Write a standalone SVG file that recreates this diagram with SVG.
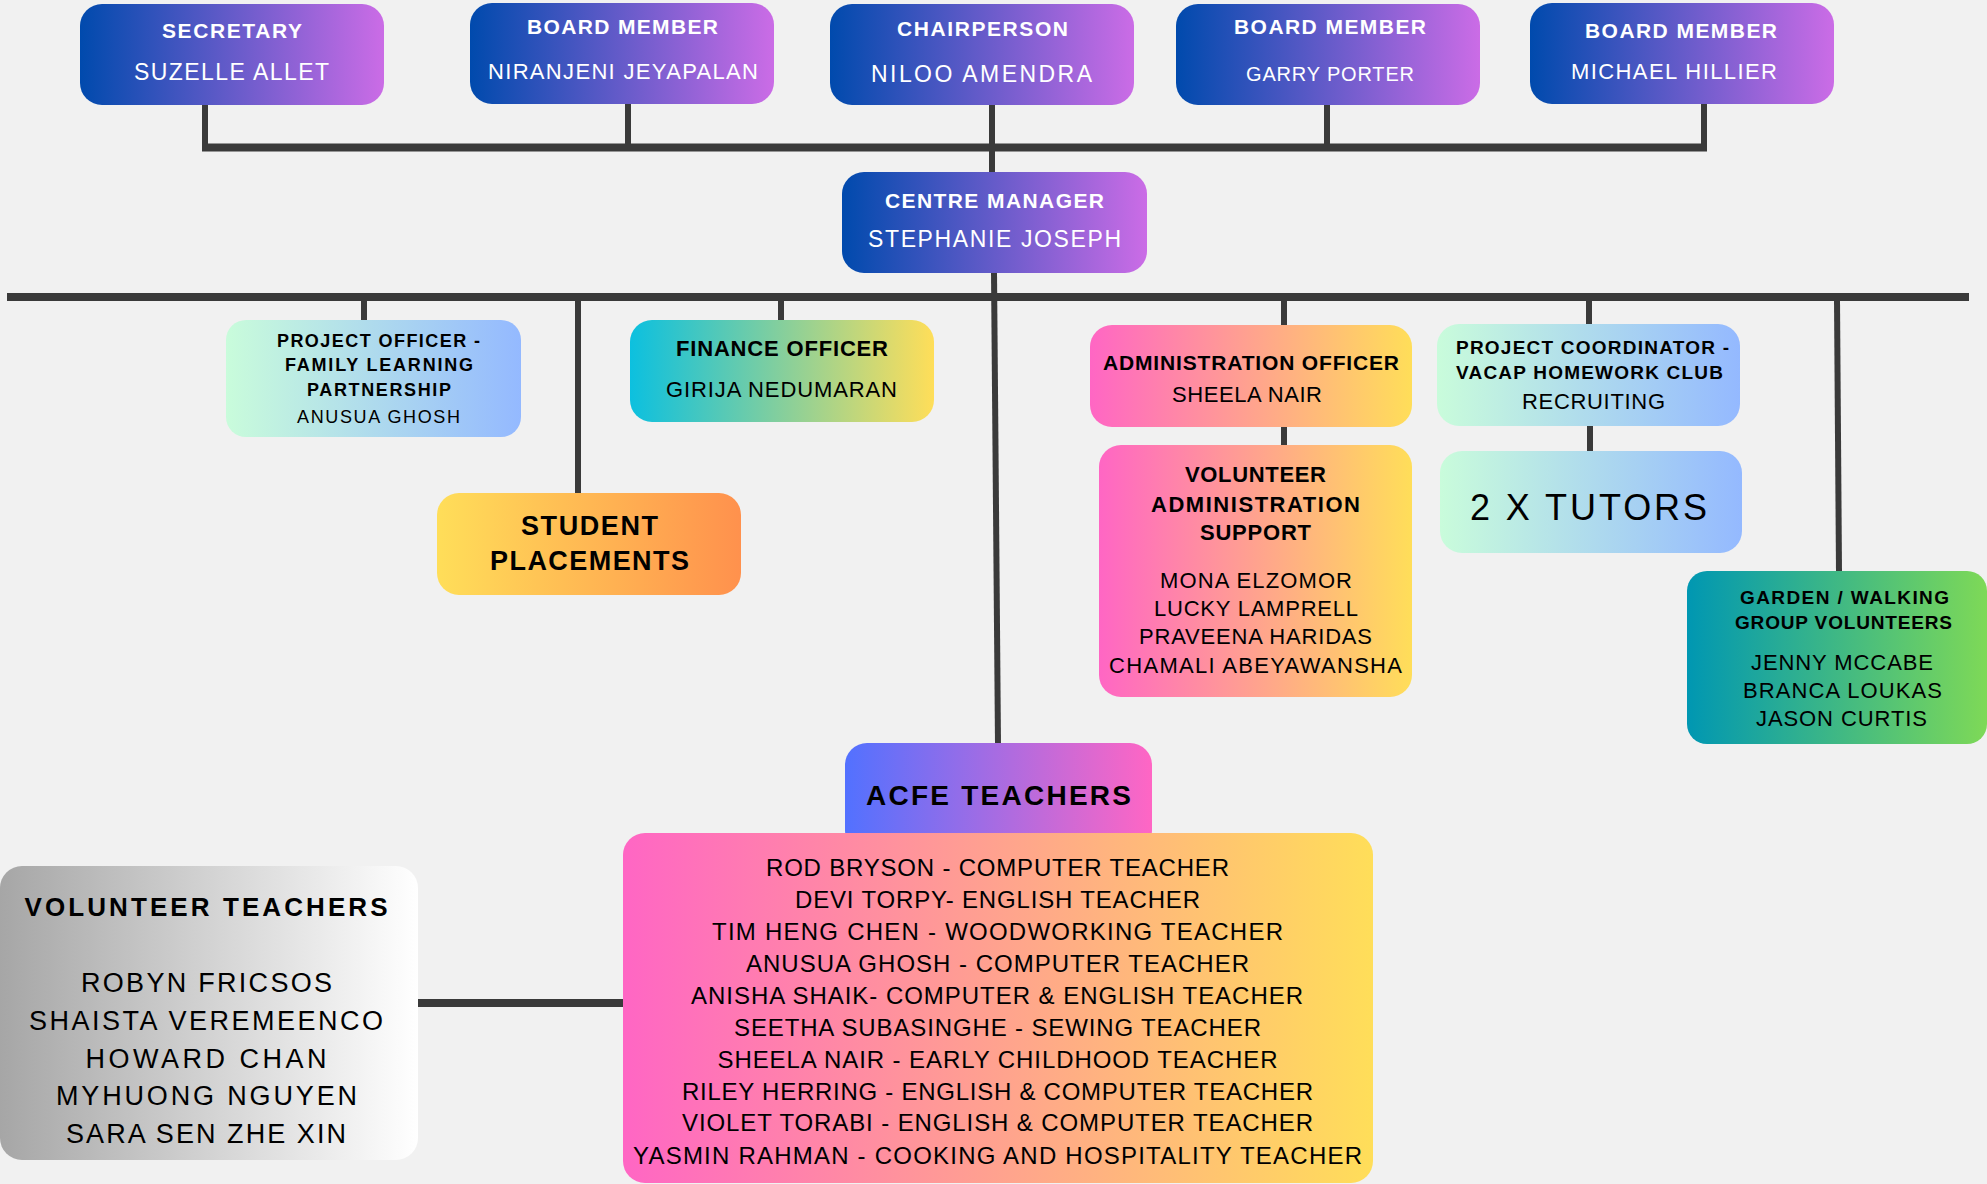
<svg xmlns="http://www.w3.org/2000/svg" width="1987" height="1184" viewBox="0 0 1987 1184">
<defs>
<linearGradient id="gBlue" x1="0" y1="0" x2="1" y2="0"><stop offset="0" stop-color="#004aad"/><stop offset="1" stop-color="#cb6ce6"/></linearGradient>
<linearGradient id="gMint" x1="0" y1="0" x2="1" y2="0"><stop offset="0" stop-color="#c9fcdb"/><stop offset="1" stop-color="#94b9ff"/></linearGradient>
<linearGradient id="gFin" x1="0" y1="0" x2="1" y2="0"><stop offset="0" stop-color="#0cc0df"/><stop offset="1" stop-color="#ffde59"/></linearGradient>
<linearGradient id="gOrange" x1="0" y1="0" x2="1" y2="0"><stop offset="0" stop-color="#ffde59"/><stop offset="1" stop-color="#ff914d"/></linearGradient>
<linearGradient id="gPink" x1="0" y1="0" x2="1" y2="0"><stop offset="0" stop-color="#ff66c4"/><stop offset="1" stop-color="#ffde59"/></linearGradient>
<linearGradient id="gGreen" x1="0" y1="0" x2="1" y2="0"><stop offset="0" stop-color="#0097b2"/><stop offset="1" stop-color="#7ed957"/></linearGradient>
<linearGradient id="gAcfe" x1="0" y1="0" x2="1" y2="0"><stop offset="0" stop-color="#5271ff"/><stop offset="1" stop-color="#ff66c4"/></linearGradient>
<linearGradient id="gGray" x1="0" y1="0" x2="1" y2="0"><stop offset="0" stop-color="#a6a6a6"/><stop offset="1" stop-color="#ffffff"/></linearGradient>
</defs>
<style>
text{font-family:"Liberation Sans",Arial,sans-serif;text-anchor:middle;fill:#000}
.w{fill:#fff}
.b{font-weight:bold}
.c{stroke:#3a3a3a;fill:none;stroke-linecap:butt}
.v{stroke-width:6}
.h{stroke-width:8}
</style>
<rect x="0" y="0" width="1987" height="1184" fill="#f1f1f1"/>

<g id="connectors">
<line class="c v" x1="205" y1="104" x2="205" y2="151"/>
<line class="c v" x1="628" y1="104" x2="628" y2="151"/>
<line class="c v" x1="992" y1="105" x2="992" y2="172"/>
<line class="c v" x1="1327" y1="105" x2="1327" y2="151"/>
<line class="c v" x1="1704" y1="104" x2="1704" y2="151"/>
<line class="c h" x1="202" y1="147.5" x2="1707" y2="147.5"/>
<line class="c v" x1="994" y1="272" x2="998" y2="744"/>
<line class="c h" x1="7" y1="297" x2="1969" y2="297"/>
<line class="c v" x1="364" y1="300" x2="364" y2="321"/>
<line class="c v" x1="578" y1="300" x2="578" y2="494"/>
<line class="c v" x1="781" y1="300" x2="781" y2="321"/>
<line class="c v" x1="1284" y1="300" x2="1284" y2="326"/>
<line class="c v" x1="1589" y1="300" x2="1589" y2="325"/>
<line class="c v" x1="1837" y1="300" x2="1839" y2="572"/>
<line class="c v" x1="1284" y1="426" x2="1284" y2="446"/>
<line class="c v" x1="1590" y1="425" x2="1590" y2="452"/>
<line class="c h" x1="417" y1="1003" x2="624" y2="1003"/>
</g>

<g id="secretary">
<rect x="80" y="4" width="304" height="101" rx="22" fill="url(#gBlue)"/>
<text class="w b" x="232" y="38" font-size="21" textLength="140">SECRETARY</text>
<text class="w" x="231.5" y="80" font-size="23" textLength="195">SUZELLE ALLET</text>
</g>
<g id="board-niranjeni">
<rect x="470" y="3" width="304" height="101" rx="22" fill="url(#gBlue)"/>
<text class="w b" x="622.5" y="34" font-size="21" textLength="191">BOARD MEMBER</text>
<text class="w" x="623" y="79" font-size="22" textLength="270">NIRANJENI JEYAPALAN</text>
</g>
<g id="chairperson">
<rect x="830" y="4" width="304" height="101" rx="22" fill="url(#gBlue)"/>
<text class="w b" x="982.5" y="36" font-size="21" textLength="171">CHAIRPERSON</text>
<text class="w" x="981.5" y="82" font-size="23" textLength="221">NILOO AMENDRA</text>
</g>
<g id="board-garry">
<rect x="1176" y="4" width="304" height="101" rx="22" fill="url(#gBlue)"/>
<text class="w b" x="1330" y="34" font-size="21" textLength="192">BOARD MEMBER</text>
<text class="w" x="1330" y="81" font-size="20" textLength="168">GARRY PORTER</text>
</g>
<g id="board-michael">
<rect x="1530" y="3" width="304" height="101" rx="22" fill="url(#gBlue)"/>
<text class="w b" x="1681" y="38" font-size="21" textLength="192">BOARD MEMBER</text>
<text class="w" x="1674" y="79" font-size="22" textLength="206">MICHAEL HILLIER</text>
</g>
<g id="centre-manager">
<rect x="842" y="172" width="305" height="101" rx="22" fill="url(#gBlue)"/>
<text class="w b" x="994.5" y="208" font-size="21" textLength="219">CENTRE MANAGER</text>
<text class="w" x="994.5" y="247" font-size="23" textLength="253">STEPHANIE JOSEPH</text>
</g>

<g id="project-officer">
<rect x="226" y="320" width="295" height="117" rx="20" fill="url(#gMint)"/>
<text class="b" x="378.5" y="347" font-size="18" textLength="203">PROJECT OFFICER -</text>
<text class="b" x="379" y="371" font-size="18" textLength="188">FAMILY LEARNING</text>
<text class="b" x="379" y="396" font-size="18" textLength="144">PARTNERSHIP</text>
<text x="378.5" y="423" font-size="18" textLength="163">ANUSUA GHOSH</text>
</g>
<g id="student-placements">
<rect x="437" y="493" width="304" height="102" rx="22" fill="url(#gOrange)"/>
<text class="b" x="589.5" y="535" font-size="27" textLength="137">STUDENT</text>
<text class="b" x="589.5" y="570" font-size="27" textLength="199">PLACEMENTS</text>
</g>
<g id="finance-officer">
<rect x="630" y="320" width="304" height="102" rx="22" fill="url(#gFin)"/>
<text class="b" x="782" y="356" font-size="22" textLength="212">FINANCE OFFICER</text>
<text x="781.5" y="397" font-size="22" textLength="231">GIRIJA NEDUMARAN</text>
</g>
<g id="administration-officer">
<rect x="1090" y="325" width="322" height="102" rx="22" fill="url(#gPink)"/>
<text class="b" x="1251" y="370" font-size="21" textLength="296">ADMINISTRATION OFFICER</text>
<text x="1247" y="402" font-size="22" textLength="150">SHEELA NAIR</text>
</g>
<g id="volunteer-admin-support">
<rect x="1099" y="445" width="313" height="252" rx="22" fill="url(#gPink)"/>
<text class="b" x="1255.5" y="482" font-size="22" textLength="141">VOLUNTEER</text>
<text class="b" x="1255.5" y="511.5" font-size="22" textLength="209">ADMINISTRATION</text>
<text class="b" x="1255.5" y="540" font-size="22" textLength="111">SUPPORT</text>
<text x="1256" y="587.5" font-size="22" textLength="192">MONA ELZOMOR</text>
<text x="1256" y="616" font-size="22" textLength="204">LUCKY LAMPRELL</text>
<text x="1255.5" y="644" font-size="22" textLength="233">PRAVEENA HARIDAS</text>
<text x="1255.5" y="673" font-size="22" textLength="293">CHAMALI ABEYAWANSHA</text>
</g>
<g id="project-coordinator">
<rect x="1437" y="324" width="303" height="102" rx="22" fill="url(#gMint)"/>
<text class="b" x="1592.5" y="354" font-size="19" textLength="273">PROJECT COORDINATOR -</text>
<text class="b" x="1589.5" y="379" font-size="19" textLength="267">VACAP HOMEWORK CLUB</text>
<text x="1593.5" y="409" font-size="22" textLength="143">RECRUITING</text>
</g>
<g id="tutors">
<rect x="1440" y="451" width="302" height="102" rx="22" fill="url(#gMint)"/>
<text x="1588.5" y="519.5" font-size="36" textLength="237">2 X TUTORS</text>
</g>
<g id="garden-walking">
<rect x="1687" y="571" width="300" height="173" rx="20" fill="url(#gGreen)"/>
<text class="b" x="1844.5" y="604" font-size="19" textLength="209">GARDEN / WALKING</text>
<text class="b" x="1843.5" y="629" font-size="19" textLength="217">GROUP VOLUNTEERS</text>
<text x="1842" y="669.5" font-size="22" textLength="182">JENNY MCCABE</text>
<text x="1842.5" y="697.5" font-size="22" textLength="199">BRANCA LOUKAS</text>
<text x="1841.5" y="725.5" font-size="22" textLength="171">JASON CURTIS</text>
</g>

<g id="acfe-teachers">
<rect x="845" y="743" width="307" height="110" rx="22" fill="url(#gAcfe)"/>
<text class="b" x="998.5" y="805" font-size="28" textLength="265">ACFE TEACHERS</text>
</g>
<g id="teacher-list">
<rect x="623" y="833" width="750" height="350" rx="22" fill="url(#gPink)"/>
<text x="997.5" y="876" font-size="24" textLength="463">ROD BRYSON - COMPUTER TEACHER</text>
<text x="997.5" y="908" font-size="24" textLength="405">DEVI TORPY- ENGLISH TEACHER</text>
<text x="997.5" y="940" font-size="24" textLength="571">TIM HENG CHEN - WOODWORKING TEACHER</text>
<text x="997.5" y="972" font-size="24" textLength="503">ANUSUA GHOSH - COMPUTER TEACHER</text>
<text x="997" y="1004" font-size="24" textLength="612">ANISHA SHAIK- COMPUTER &amp; ENGLISH TEACHER</text>
<text x="997.5" y="1036" font-size="24" textLength="527">SEETHA SUBASINGHE - SEWING TEACHER</text>
<text x="997.5" y="1068" font-size="24" textLength="560">SHEELA NAIR - EARLY CHILDHOOD TEACHER</text>
<text x="997.5" y="1100" font-size="24" textLength="631">RILEY HERRING - ENGLISH &amp; COMPUTER TEACHER</text>
<text x="997.5" y="1131" font-size="24" textLength="631">VIOLET TORABI - ENGLISH &amp; COMPUTER TEACHER</text>
<text x="997.5" y="1164" font-size="24" textLength="729">YASMIN RAHMAN - COOKING AND HOSPITALITY TEACHER</text>
</g>
<g id="volunteer-teachers">
<rect x="0" y="866" width="418" height="294" rx="22" fill="url(#gGray)"/>
<text class="b" x="206" y="916" font-size="26" textLength="363">VOLUNTEER TEACHERS</text>
<text x="206.5" y="992" font-size="27" textLength="251">ROBYN FRICSOS</text>
<text x="206" y="1030" font-size="27" textLength="354">SHAISTA VEREMEENCO</text>
<text x="206" y="1067.5" font-size="27" textLength="241">HOWARD CHAN</text>
<text x="206.5" y="1105" font-size="27" textLength="301">MYHUONG NGUYEN</text>
<text x="206" y="1143" font-size="27" textLength="280">SARA SEN ZHE XIN</text>
</g>
</svg>
